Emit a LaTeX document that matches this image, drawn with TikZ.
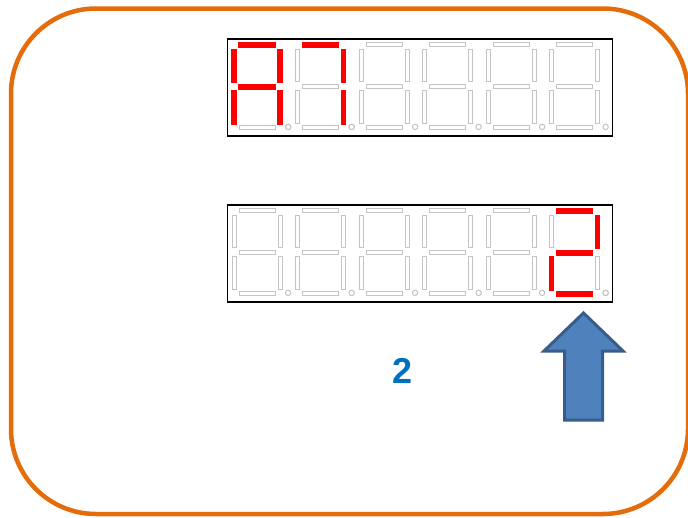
\documentclass[tikz,border=0pt]{standalone}
\usepackage{fontspec}
\setmainfont{Liberation Sans}
\usepackage{tikz}
\usetikzlibrary{calc}
\definecolor{frameorange}{HTML}{E46C0A}
\definecolor{segmentred}{HTML}{FF0000}
\definecolor{segmentgray}{HTML}{C4C4C4}
\definecolor{arrowfill}{HTML}{4F81BD}
\definecolor{arrowborder}{HTML}{385D8A}
\definecolor{valueblue}{HTML}{0070C0}
\tikzset{
  segoff/.style={draw=segmentgray,fill=white,line width=1pt},
  segon/.style={draw=segmentred,fill=segmentred,line width=1.4pt},
  pics/blankdigit/.style={code={
    \foreach \sn/\ax/\ay/\bx/\by in {a/0/-2/36/2,b/39/5/43/37,c/39/46/43/79,
      d/0/81/36/85,e/-7/46/-3/79,f/-7/5/-3/37,g/0/40/36/44}{
      \coordinate (seg\sn1) at (\ax,\ay);
      \coordinate (seg\sn2) at (\bx,\by);
      \draw[segoff] (seg\sn1) rectangle (seg\sn2);
    }
    \draw[segoff] (49,82) circle[radius=2.7pt];
  }},
  pics/sevenseg/.style={code={
    \pic {blankdigit};
    \foreach \sn in {#1}{\draw[segon] (seg\sn1) rectangle (seg\sn2);}
  }}
}

\begin{document}
\begin{tikzpicture}[x=1pt,y=-1pt,
  outerframe/.style={draw=frameorange,line width=4.5pt,rounded corners=85pt},
  displaybox/.style={draw=black,line width=1.8pt,minimum width=385pt,
    minimum height=97pt,inner sep=0pt},
  blockarrow/.style={draw=arrowborder,fill=arrowfill,line width=3pt,line join=miter},
  valuelabel/.style={text=valueblue,font=\fontsize{36}{40}\selectfont\bfseries}
]
  \useasboundingbox (0,0) rectangle (688,517);
  \draw[outerframe] (11,8.5) rectangle (688,514);

  \node[displaybox] (upperdisplay) at (420,87.3) {};
  \node[displaybox] (lowerdisplay) at (420,253.3) {};

  % six digit places in each display
  \foreach \k in {0,...,5}{
    \pic at ($(upperdisplay.north west)+(12.5+63.5*\k,7)$) {blankdigit};
    \pic at ($(lowerdisplay.north west)+(12.5+63.5*\k,7)$) {blankdigit};
  }
  \pic at ($(upperdisplay.north west)+(12.5,7)$) {sevenseg={a,b,c,e,f,g}};
  \pic at ($(upperdisplay.north west)+(76,7)$) {sevenseg={a,b,c}};
  \pic at ($(lowerdisplay.north west)+(330,7)$) {sevenseg={a,b,g,e,d}};

  \draw[blockarrow] (583.5,313) -- (623,351) -- (602.5,351) -- (602.5,420)
    -- (564.5,420) -- (564.5,351) -- (544,351) -- cycle;

  \node[valuelabel] (shownvalue) at (403,371) {2};
\end{tikzpicture}
\end{document}
